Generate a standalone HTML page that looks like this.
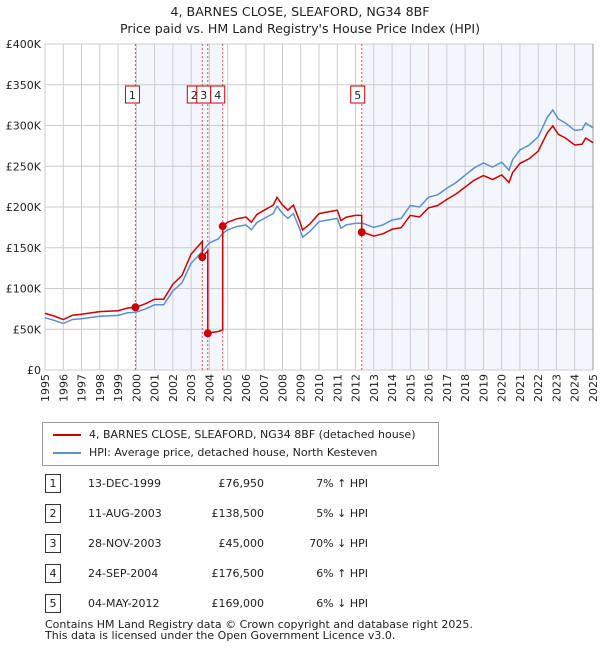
<!DOCTYPE html>
<html><head><meta charset="utf-8"><style>
body{margin:0;background:#fff;font-family:"DejaVu Sans","Liberation Sans",sans-serif;}
#wrap{position:relative;width:600px;height:650px;overflow:hidden;}
.t{position:absolute;font-size:11px;color:#222;}
</style></head><body>
<div id="wrap">
<svg id="chart" width="600" height="420" style="position:absolute;left:0;top:0;font-family:'DejaVu Sans','Liberation Sans',sans-serif"></svg>
<div style="position:absolute;left:42px;top:422px;width:395px;height:42px;border:1px solid #999;background:#fff">
 <div style="position:absolute;left:10px;top:5px;font-size:11px;color:#222;white-space:nowrap"><span style="display:inline-block;width:28px;height:2px;background:#cc0000;vertical-align:middle;margin-right:8px"></span>4, BARNES CLOSE, SLEAFORD, NG34 8BF (detached house)</div>
 <div style="position:absolute;left:10px;top:23px;font-size:11px;color:#222;white-space:nowrap"><span style="display:inline-block;width:28px;height:2px;background:#5b8fd0;vertical-align:middle;margin-right:8px"></span>HPI: Average price, detached house, North Kesteven</div>
</div>
<div id="table"></div>
<div class="t" style="left:45px;top:619px;line-height:11px">Contains HM Land Registry data © Crown copyright and database right 2025.<br>This data is licensed under the Open Government Licence v3.0.</div>
</div>
<script>
const titleLines=["4, BARNES CLOSE, SLEAFORD, NG34 8BF","Price paid vs. HM Land Registry's House Price Index (HPI)"];
const yTicks=[0,50000,100000,150000,200000,250000,300000,350000,400000];
const yTickLabels=["£0","£50K","£100K","£150K","£200K","£250K","£300K","£350K","£400K"];
const hpiYears=[1995,1995.5,1996.0,1996.5,1997,1998,1999,1999.5,2000,2000.5,2001,2001.5,2002,2002.5,2003,2003.3,2003.6,2004,2004.5,2004.75,2005,2005.5,2006,2006.3,2006.6,2007,2007.5,2007.7,2008,2008.3,2008.6,2009,2009.1,2009.5,2010,2010.5,2011,2011.2,2011.5,2012,2012.4,2013,2013.5,2014,2014.5,2015,2015.5,2016,2016.5,2017,2017.5,2018,2018.5,2019,2019.5,2020,2020.4,2020.6,2021,2021.5,2022,2022.5,2022.8,2023.1,2023.5,2024,2024.4,2024.6,2025];
const hpiValues=[64000,61000,57000,62000,63000,66000,67000,70000,71000,75000,80000,80000,97000,107000,131000,138000,145000,156000,161000,168000,172000,176000,178000,172000,181000,186000,192000,201000,192000,186000,192000,170000,163000,170000,182000,184000,186000,174000,178000,180000,180000,175000,178000,184000,186000,202000,200000,212000,215000,223000,230000,239000,248000,254000,249000,255000,245000,258000,270000,276000,286000,310000,319000,308000,303000,294000,295000,303000,297000];
const saleLabels=["1","2","3","4","5"];
const saleDates=["13-DEC-1999","11-AUG-2003","28-NOV-2003","24-SEP-2004","04-MAY-2012"];
const saleYears=[1999.95,2003.61,2003.91,2004.73,2012.34];
const salePrices=[76950,138500,45000,176500,169000];
const salePriceLabels=["£76,950","£138,500","£45,000","£176,500","£169,000"];
const saleHpiDiff=["7% ↑ HPI","5% ↓ HPI","70% ↓ HPI","6% ↑ HPI","6% ↓ HPI"];

const NS="http://www.w3.org/2000/svg";
const svg=document.getElementById('chart');
const L=45,R=593,T=44,B=370;
const X=y=>L+(y-1995)/30*(R-L);
const Y=v=>B-v/400000*(B-T);
function mk(tag,a,p){const e=document.createElementNS(NS,tag);for(const k in a)e.setAttribute(k,a[k]);(p||svg).appendChild(e);return e;}
function hpiAt(t){if(t<=hpiYears[0])return hpiValues[0];for(let i=1;i<hpiYears.length;i++){if(t<=hpiYears[i]){const f=(t-hpiYears[i-1])/(hpiYears[i]-hpiYears[i-1]);return hpiValues[i-1]+f*(hpiValues[i]-hpiValues[i-1]);}}return hpiValues[hpiValues.length-1];}
titleLines.forEach((s,i)=>{const e=mk('text',{x:300,y:16+i*17,'text-anchor':'middle','font-size':12.6,fill:'#222'});e.textContent=s;});
mk('rect',{x:L,y:T,width:R-L,height:B-T,fill:'#fff'});
let sh1=mk('rect',{x:X(saleYears[0]),y:T,width:X(saleYears[3])-X(saleYears[0]),height:B-T,fill:'#eef3fc',opacity:0.7});


let sh2=mk('rect',{x:X(saleYears[4]),y:T,width:R-X(saleYears[4]),height:B-T,fill:'#eef3fc',opacity:0.7});


for(let yr=1995;yr<=2025;yr++){mk('line',{x1:X(yr),x2:X(yr),y1:T,y2:B,stroke:'#ccc','stroke-width':1});
 const tx=X(yr)+4,ty=B+4;const e=mk('text',{x:tx,y:ty,transform:`rotate(-90 ${tx} ${ty})`,'text-anchor':'end','font-size':11,fill:'#222'});e.textContent=yr;}
yTicks.forEach((v,i)=>{mk('line',{x1:L,x2:R,y1:Y(v),y2:Y(v),stroke:'#ccc','stroke-width':1});const e=mk('text',{x:L-4,y:Y(v)+4,'text-anchor':'end','font-size':11,fill:'#222'});e.textContent=yTickLabels[i];});
mk('line',{x1:R,x2:R,y1:T,y2:B,stroke:'#999'});
saleYears.forEach(s=>{const l=mk('line',{x1:X(s),x2:X(s),y1:T,y2:B,stroke:'#e05050','stroke-width':1,'stroke-dasharray':'2,2'});});
let hp=hpiYears.map((y,i)=>X(y).toFixed(1)+','+Y(hpiValues[i]).toFixed(1)).join(' ');
let hl=mk('polyline',{points:hp,fill:'none',stroke:'#5b8fd0','stroke-width':1.5});


let pts=[];
const ts=[...new Set(hpiYears.concat(saleYears))].sort((a,b)=>a-b);
function factor(t){let k=0;for(let i=0;i<saleYears.length;i++)if(t>=saleYears[i])k=i;return salePrices[k]/hpiAt(saleYears[k]);}
ts.forEach(t=>{let k=saleYears.indexOf(t);if(k>0){pts.push([t,hpiAt(t)*salePrices[k-1]/hpiAt(saleYears[k-1])]);}pts.push([t,hpiAt(t)*factor(t)]);});
let pl=mk('polyline',{points:pts.map(p=>X(p[0]).toFixed(1)+','+Y(p[1]).toFixed(1)).join(' '),fill:'none',stroke:'#cc0000','stroke-width':1.5});


const boxOff=[-9,-14,-10,-11,-10];
saleYears.forEach((s,i)=>{const c=mk('circle',{cx:X(s),cy:Y(salePrices[i]),r:4,fill:'#cc0000'});
 const bx=X(s)+boxOff[i];
 const g=mk('g',{});
 mk('rect',{x:bx-1,y:86,width:14,height:17,fill:'#fff',stroke:'#cc0000','stroke-width':1},g);
 const t=mk('text',{x:bx+6,y:99,'text-anchor':'middle','font-size':11,fill:'#222'},g);t.textContent=saleLabels[i];});
const tb=document.getElementById('table');
saleLabels.forEach((n,i)=>{const y=474+i*30;const r=document.createElement('div');
 
 r.style.cssText=`position:absolute;left:0;top:${y}px;width:600px;height:20px;font-size:11px;color:#222;white-space:nowrap`;
 r.innerHTML=`<span style="position:absolute;left:45px;top:0;width:14px;height:17px;border:1px solid #333;text-align:center;line-height:17px">${n}</span><span style="position:absolute;left:88px;top:3px">${saleDates[i]}</span><span style="position:absolute;right:336px;top:3px">${salePriceLabels[i]}</span><span style="position:absolute;right:232px;top:3px">${saleHpiDiff[i]}</span>`;
 tb.appendChild(r);});
</script>
</body></html>
